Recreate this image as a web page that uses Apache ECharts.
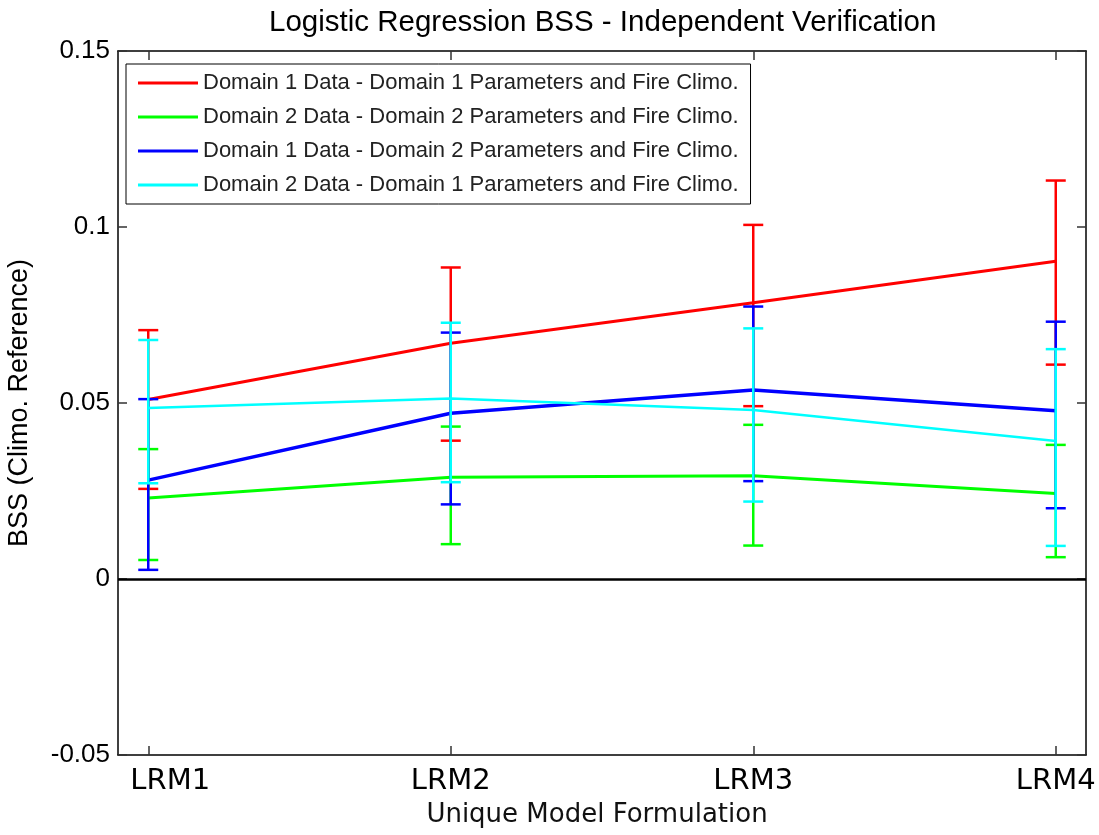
<!DOCTYPE html>
<html>
<head>
<meta charset="utf-8">
<script src="https://cdn.jsdelivr.net/npm/echarts@6/dist/echarts.min.js"></script>
<style>html,body{margin:0;padding:0;background:#fff;}#c{width:1099px;height:835px;}</style>
</head>
<body>
<div id="c"></div>
<script>
var categories = ['LRM1', 'LRM2', 'LRM3', 'LRM4'];
var xPositions = [1, 2, 3, 4];
var yTicks = [-0.05, 0, 0.05, 0.1, 0.15];

var seriesNames = [
  'Domain 1 Data - Domain 1 Parameters and Fire Climo.',
  'Domain 2 Data - Domain 2 Parameters and Fire Climo.',
  'Domain 1 Data - Domain 2 Parameters and Fire Climo.',
  'Domain 2 Data - Domain 1 Parameters and Fire Climo.'
];
var d1p1Mean = [0.0510, 0.0670, 0.0785, 0.0903];
var d1p1Low  = [0.0256, 0.0393, 0.0491, 0.0609];
var d1p1High = [0.0707, 0.0885, 0.1006, 0.1132];

var d2p2Mean = [0.0230, 0.0289, 0.0293, 0.0243];
var d2p2Low  = [0.0054, 0.0099, 0.0095, 0.0062];
var d2p2High = [0.0369, 0.0433, 0.0438, 0.0381];

var d1p2Mean = [0.0281, 0.0471, 0.0537, 0.0478];
var d1p2Low  = [0.0026, 0.0212, 0.0278, 0.0201];
var d1p2High = [0.0511, 0.0700, 0.0774, 0.0731];

var d2p1Mean = [0.0486, 0.0513, 0.0480, 0.0392];
var d2p1Low  = [0.0272, 0.0275, 0.0220, 0.0094];
var d2p1High = [0.0679, 0.0728, 0.0712, 0.0653];

var groups = [
  {name: seriesNames[0], mean: d1p1Mean, low: d1p1Low, high: d1p1High, color: '#ff0000', lw: 3},
  {name: seriesNames[1], mean: d2p2Mean, low: d2p2Low, high: d2p2High, color: '#00ff00', lw: 3},
  {name: seriesNames[2], mean: d1p2Mean, low: d1p2Low, high: d1p2High, color: '#0000ff', lw: 3.5},
  {name: seriesNames[3], mean: d2p1Mean, low: d2p1Low, high: d2p1High, color: '#00ffff', lw: 2.5}
];

function errRender(color) {
  return function (params, api) {
    var x = api.value(0);
    var lo = api.coord([x, api.value(1)]);
    var hi = api.coord([x, api.value(2)]);
    var hw = 10;
    var st = {stroke: color, lineWidth: 2.5};
    return {
      type: 'group',
      children: [
        {type: 'line', shape: {x1: lo[0], y1: lo[1], x2: hi[0], y2: hi[1]}, style: st},
        {type: 'line', shape: {x1: lo[0] - hw, y1: lo[1], x2: lo[0] + hw, y2: lo[1]}, style: st},
        {type: 'line', shape: {x1: hi[0] - hw, y1: hi[1], x2: hi[0] + hw, y2: hi[1]}, style: st}
      ]
    };
  };
}

var series = [];
groups.forEach(function (g, i) {
  series.push({
    name: g.name,
    type: 'line',
    data: xPositions.map(function (x, k) { return [x, g.mean[k]]; }),
    symbol: 'none',
    lineStyle: {color: g.color, width: g.lw},
    itemStyle: {color: g.color},
    z: 10 + i * 2,
    silent: true,
    animation: false
  });
  series.push({
    name: g.name + ' err',
    type: 'custom',
    data: xPositions.map(function (x, k) { return [x, g.low[k], g.high[k]]; }),
    renderItem: errRender(g.color),
    z: 11 + i * 2,
    silent: true,
    animation: false
  });
});
series[0].markLine = {
  silent: true,
  symbol: 'none',
  label: {show: false},
  lineStyle: {color: '#000', width: 2.5, type: 'solid'},
  data: [{yAxis: 0}],
  animation: false
};

var chart = echarts.init(document.getElementById('c'));
chart.setOption({
  backgroundColor: '#fff',
  animation: false,
  title: {
    text: 'Logistic Regression BSS - Independent Verification',
    left: 264,
    top: 3,
    textStyle: {fontFamily: 'Liberation Sans', fontSize: 29.5, fontWeight: 'normal', color: '#000'}
  },
  legend: {
    data: seriesNames.map(function (n) { return {name: n, icon: 'rect'}; }),
    orient: 'vertical',
    left: 126,
    top: 64,
    padding: [8, 12, 8, 12],
    itemGap: 12,
    itemWidth: 60,
    itemHeight: 3,
    backgroundColor: '#fff',
    borderColor: '#000',
    borderWidth: 1,
    borderRadius: 0,
    selectedMode: false,
    textStyle: {fontFamily: 'Liberation Sans', fontSize: 22, color: '#222'}
  },
  grid: {left: 118, right: 13, top: 51, bottom: 80, containLabel: false, outerBoundsMode: 'none'},
  xAxis: [{
    type: 'value',
    min: 0.9,
    max: 4.1,
    position: 'bottom',
    name: 'Unique Model Formulation',
    nameLocation: 'middle',
    nameGap: 47,
    nameTextStyle: {fontFamily: 'DejaVu Sans', fontSize: 26, color: '#111', padding: [0, 10, 0, 0]},
    axisLine: {show: true, onZero: false, lineStyle: {color: '#000', width: 1.5}},
    axisTick: {show: true, inside: true, length: 9, customValues: xPositions, lineStyle: {color: '#333', width: 1.5}},
    axisLabel: {show: true, customValues: xPositions, margin: 12, fontFamily: 'DejaVu Sans', fontSize: 29, color: '#000',
      formatter: function (v) {
        var i = Math.round(v) - 1;
        return i === 0 ? '{f|' + categories[i] + '}' : (categories[i] || '');
      },
      rich: {f: {fontFamily: 'DejaVu Sans', fontSize: 29, color: '#000', padding: [0, 0, 0, 44]}}},
    splitLine: {show: false}
  }, {
    type: 'value',
    min: 0.9,
    max: 4.1,
    position: 'top',
    axisLine: {show: true, onZero: false, lineStyle: {color: '#000', width: 1.5}},
    axisTick: {show: true, inside: true, length: 9, customValues: xPositions, lineStyle: {color: '#333', width: 1.5}},
    axisLabel: {show: false},
    splitLine: {show: false}
  }],
  yAxis: [{
    type: 'value',
    min: -0.05,
    max: 0.15,
    interval: 0.05,
    position: 'left',
    name: 'BSS (Climo. Reference)',
    nameLocation: 'middle',
    nameGap: 85,
    nameTextStyle: {fontFamily: 'Liberation Sans', fontSize: 27, color: '#000'},
    axisLine: {show: true, onZero: false, lineStyle: {color: '#000', width: 1.5}},
    axisTick: {show: true, inside: true, length: 9, lineStyle: {color: '#333', width: 1.5}},
    axisLabel: {show: true, margin: 8, fontFamily: 'Liberation Sans', fontSize: 26, color: '#000',
      formatter: function (v) { return String(Math.round(v * 100) / 100); }},
    splitLine: {show: false}
  }, {
    type: 'value',
    min: -0.05,
    max: 0.15,
    interval: 0.05,
    position: 'right',
    axisLine: {show: true, onZero: false, lineStyle: {color: '#000', width: 1.5}},
    axisTick: {show: true, inside: true, length: 9, lineStyle: {color: '#333', width: 1.5}},
    axisLabel: {show: false},
    splitLine: {show: false}
  }],
  series: series
});
</script>
</body>
</html>
